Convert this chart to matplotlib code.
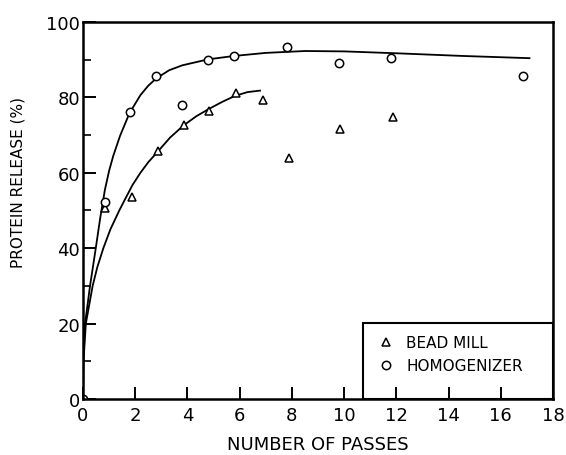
import matplotlib.pyplot as plt
from matplotlib.patches import Rectangle

plt.rcParams['font.family'] = ['DejaVu Sans']

# measured points
homog_x = [0, 0.85, 1.8, 2.8, 3.8, 4.8, 5.8, 7.8, 9.8, 11.8, 16.85]
homog_y = [0, 52.2, 76.1, 85.6, 78.0, 89.9, 91.0, 93.3, 89.1, 90.5, 85.6]
bead_x = [0, 0.85, 1.89, 2.86, 3.86, 4.84, 5.85, 6.88, 7.88, 9.85, 11.89]
bead_y = [0, 50.7, 53.7, 65.8, 72.6, 76.4, 81.2, 79.3, 64.0, 71.7, 74.8]

# fitted curves
homog_fit_x = [0, 0.01, 0.08, 0.27, 0.49, 0.66, 0.84, 1.0, 1.16, 1.42, 1.78, 2.2,
               2.5, 2.8, 3.3, 3.8, 4.8, 5.8, 7.0, 8.5, 10, 12, 14.5, 17.1]
homog_fit_y = [0, 10, 20, 30, 40, 48, 55.5, 60.5, 64.5, 69.8, 75.8, 80.6,
               83.1, 85, 87.2, 88.5, 90.1, 91, 91.8, 92.3, 92.2, 91.7, 91.0, 90.4]
bead_fit_x = [0, 0.02, 0.11, 0.37, 0.55, 0.78, 1.05, 1.39, 1.65, 1.9, 2.2, 2.5,
              2.85, 3.33, 3.84, 4.34, 4.84, 5.33, 5.82, 6.3, 6.78]
bead_fit_y = [0, 10, 20, 30, 35, 40, 45, 50, 53.5, 56.8, 60.0, 62.8,
              65.5, 69.3, 72.5, 75, 77, 78.8, 80.4, 81.4, 81.8]

fig = plt.figure(figsize=(5.66, 4.56), dpi=100)
ax = fig.add_axes([0.1466, 0.1228, 0.8304, 0.8268])

ax.plot(homog_fit_x, homog_fit_y, color='black', lw=1.3)
ax.plot(bead_fit_x, bead_fit_y, color='black', lw=1.3)
ax.plot(bead_x, bead_y, linestyle='none', marker='^', ms=6, mfc='white',
        mec='black', mew=1.1, label='BEAD MILL')
ax.plot(homog_x, homog_y, linestyle='none', marker='o', ms=6, mfc='white',
        mec='black', mew=1.1, label='HOMOGENIZER')

ax.set_xlim(0, 18)
ax.set_ylim(0, 100)
ax.set_xticks(range(0, 19, 2))
ax.set_yticks(range(0, 101, 20))
ax.set_yticks(range(10, 100, 20), minor=True)
ax.tick_params(axis='both', which='major', direction='in', length=9, width=1.4,
               labelsize=13, top=False, right=False)
ax.tick_params(axis='y', which='minor', direction='in', length=6, width=1.2, right=False)
ax.tick_params(axis='y', pad=2)
ax.tick_params(axis='x', pad=5)
for s in ax.spines.values():
    s.set_linewidth(1.8)

ax.set_xlabel('NUMBER OF PASSES', fontsize=13, labelpad=8)
ax.set_ylabel('PROTEIN RELEASE (%)', fontsize=11)
ax.yaxis.set_label_coords(-0.123, 0.576)

# legend box
ax.add_patch(Rectangle((0.596, 0), 0.404, 0.202, transform=ax.transAxes,
                       fill=False, lw=1.5, edgecolor='black', zorder=3))
ax.legend(loc='upper left', bbox_to_anchor=(0.6, 0.205), frameon=False,
          fontsize=11, handlelength=1.0, handletextpad=0.8, labelspacing=0.5)

fig.savefig('out.png')
